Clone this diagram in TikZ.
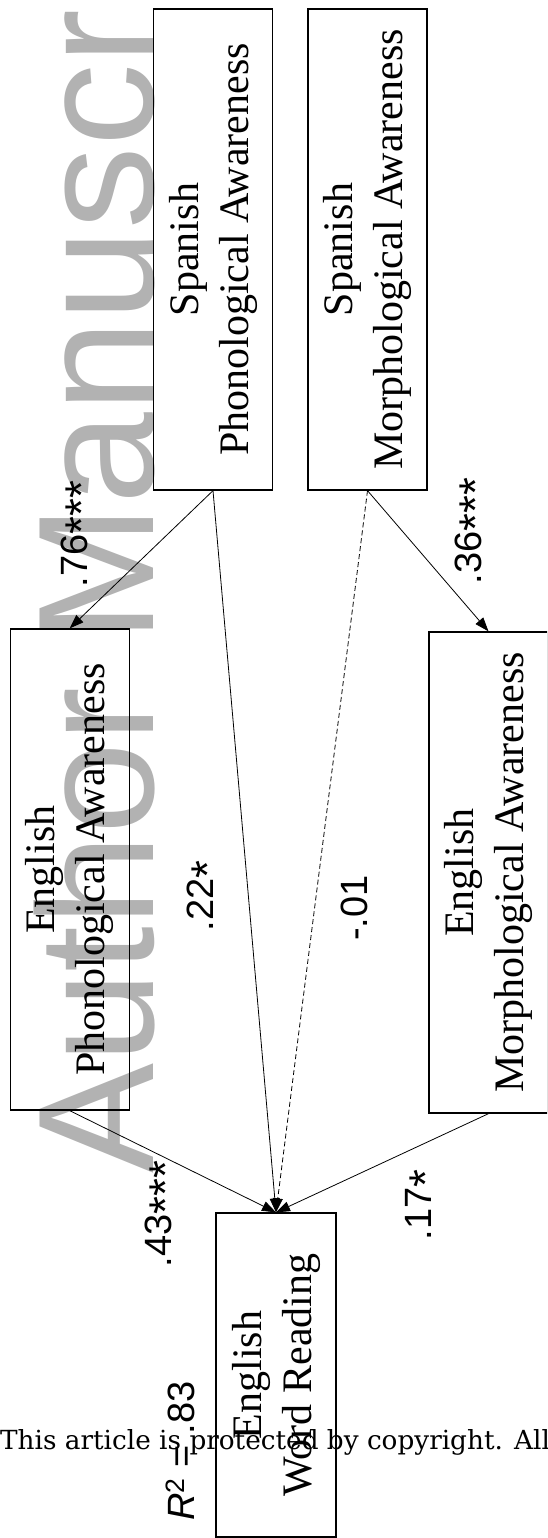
\documentclass[tikz,border=0pt]{standalone}
\usepackage{fontspec}
\setmainfont{Liberation Serif}
\newfontfamily\labfont{Liberation Sans}
\newfontfamily\footfont{DejaVu Serif}
\usetikzlibrary{arrows.meta}
\definecolor{wmgray}{RGB}{178,178,178}
\newcommand{\sstar}{\raisebox{-10pt}{\fontsize{46}{46}\selectfont *}}
\begin{document}
\begin{tikzpicture}[x=1pt,y=-1pt,
  varbox/.style={draw, line width=1.3pt, rotate=90, minimum width=481pt, minimum height=119pt,
    inner sep=0pt, align=center, font=\fontsize{42}{50}\selectfont},
  conn/.style={line width=0.8pt, -{Triangle[length=14pt,width=10pt]}},
  coef/.style={rotate=90, anchor=base, inner sep=0pt, font=\labfont\fontsize{38}{46}\selectfont},
]
\useasboundingbox (0,0) rectangle (547,1538);
\clip (0,0) rectangle (547,1538);
% watermark
\node[rotate=90, anchor=base west, inner sep=0pt, text=wmgray,
  font=\labfont\fontsize{165}{165}\selectfont] (wm) at (153,1174) {Author Manuscript};
% boxes
\node[varbox] (spa) at (213,249.5) {Spanish\\Phonological Awareness};
\node[varbox] (sma) at (367.5,249.5) {Spanish\\Morphological Awareness};
\node[varbox] (epa) at (69.7,869.5) {English\\Phonological Awareness};
\node[varbox] (ema) at (488.5,872.5) {English\\Morphological Awareness};
\node[varbox, minimum width=324pt, minimum height=120pt] (ewr) at (276,1375) {English\\Word Reading};
% connectors
\draw[conn] (spa.west) -- (epa.east);
\draw[conn] (sma.west) -- (ema.east);
\draw[conn] (spa.west) -- (ewr.east);
\draw[conn, dash pattern=on 5pt off 3pt] (sma.west) -- (ewr.east);
\draw[conn] (epa.west) -- (ewr.east);
\draw[conn] (ema.west) -- (ewr.east);
% coefficients
\node[coef] (c1) at (87,534) {.76\sstar\sstar\sstar};
\node[coef] (c2) at (481,531) {.36\sstar\sstar\sstar};
\node[coef] (c3) at (213,896) {.22\sstar};
\node[coef] (c4) at (367,908) {-.01};
\node[coef] (c5) at (171,1214) {.43\sstar\sstar\sstar};
\node[coef] (c6) at (431,1205) {.17\sstar};
\node[coef] (r2) at (194,1451) {\textit{R}\textsuperscript{2} = .83};
% footer
\node[anchor=base west, inner sep=0pt, font=\footfont\fontsize{26.3}{30}\selectfont] (foot) at (0,1449)
  {This article is protected by copyright. All};
\end{tikzpicture}
\end{document}
